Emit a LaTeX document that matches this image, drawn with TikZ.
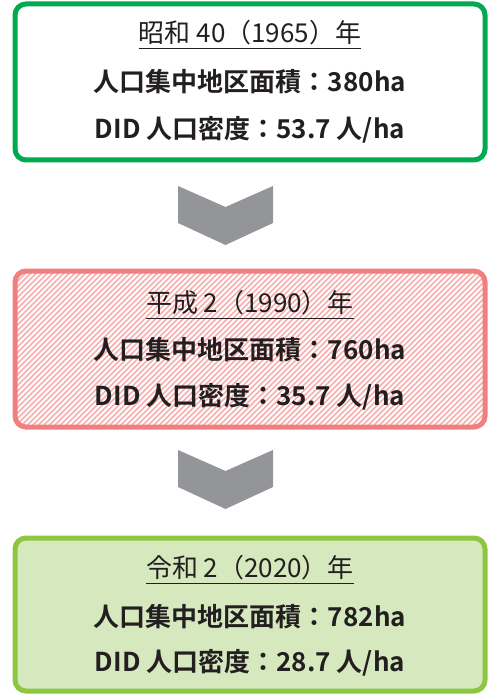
\documentclass[tikz,border=0pt]{standalone}
\usepackage{fontspec}
\setmainfont{Noto Sans CJK JP}
\newfontfamily\jpbold{Noto Sans CJK JP Bold}
\definecolor{gA}{RGB}{0,170,79}
\definecolor{pB}{RGB}{240,128,128}
\definecolor{pH}{RGB}{247,175,175}
\definecolor{lC}{RGB}{141,198,63}
\definecolor{lF}{RGB}{213,232,190}
\definecolor{arr}{RGB}{147,149,152}
\definecolor{txt}{RGB}{35,31,32}
\begin{document}
\begin{tikzpicture}[x=1pt,y=-1pt,
  panel/.style={line width=5pt,rounded corners=11pt},
  ttl/.style={inner sep=0pt,font=\fontsize{26}{26}\selectfont,text=txt},
  bline/.style={inner sep=0pt,font=\jpbold\fontsize{26}{26}\selectfont,text=txt},
  uline/.style={line width=1.6pt,draw=txt},
  hatch/.style={draw=pH,line width=1.7pt},
  chev/.style={fill=arr,draw=none}]
\useasboundingbox (0,0) rectangle (490,695);
% panels
\draw[panel,draw=gA,fill=white] (15,4) rectangle (485,160);
\begin{scope}
\clip[rounded corners=9pt] (17,273) rectangle (483,425);
\foreach \i in {-170,-164.5,...,490}
  \draw[hatch] (\i,430) -- (\i+165,265);
\end{scope}
\draw[panel,draw=pB] (15,271) rectangle (485,427);
\draw[panel,draw=lC,fill=lF] (15,538) rectangle (485,691);
% box 1
\node[ttl] (t1) at (250,33) {昭和 40（1965）年};
\draw[uline] ([yshift=-3pt]t1.south west) -- ([yshift=-3pt]t1.south east);
\node[bline] (a1) at (250,82) {人口集中地区面積：380ha};
\node[bline] (b1) at (250,130) {DID 人口密度：53.7 人/ha};
% box 2
\node[ttl] (t2) at (250,303) {平成 2（1990）年};
\draw[uline] ([yshift=-3pt]t2.south west) -- ([yshift=-3pt]t2.south east);
\node[bline] (a2) at (250,350) {人口集中地区面積：760ha};
\node[bline] (b2) at (250,397) {DID 人口密度：35.7 人/ha};
% box 3
\node[ttl] (t3) at (250,568) {令和 2（2020）年};
\draw[uline] ([yshift=-3pt]t3.south west) -- ([yshift=-3pt]t3.south east);
\node[bline] (a3) at (250,617) {人口集中地区面積：782ha};
\node[bline] (b3) at (250,663) {DID 人口密度：28.7 人/ha};
% chevrons
\fill[chev] (178,186) -- (225.5,207) -- (273,186) -- (273,223) -- (225.5,245) -- (178,223) -- cycle;
\fill[chev] (178,450) -- (225.5,471) -- (273,450) -- (273,487) -- (225.5,509) -- (178,487) -- cycle;
\end{tikzpicture}
\end{document}
